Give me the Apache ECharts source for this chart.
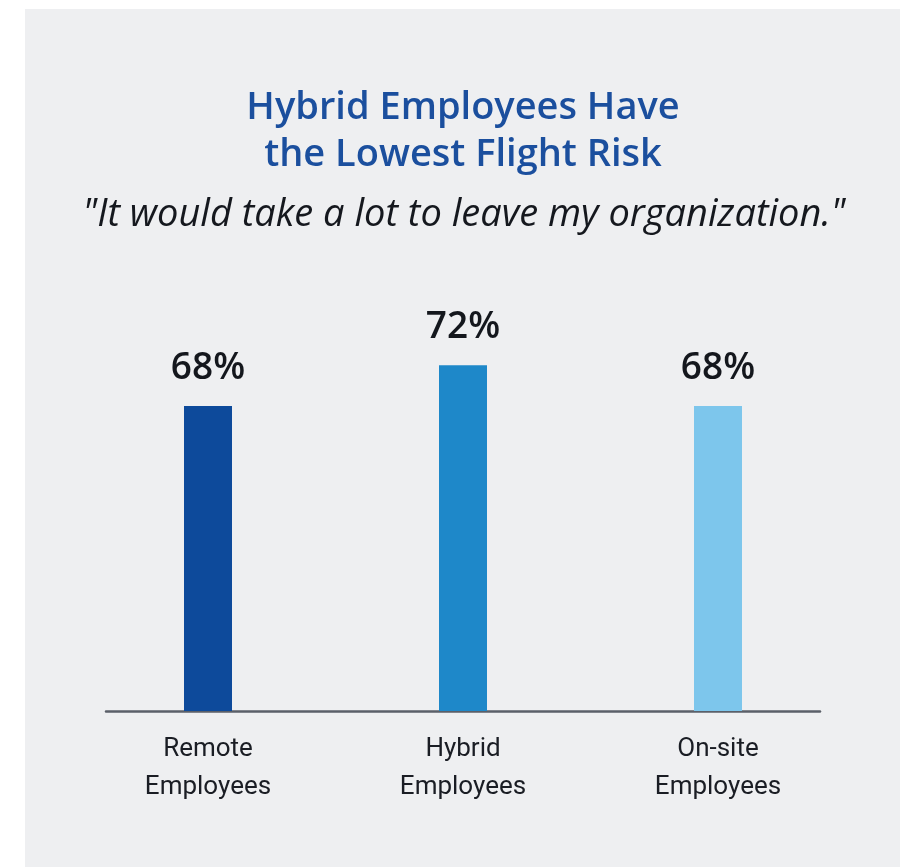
<!DOCTYPE html>
<html>
<head>
<meta charset="utf-8">
<script src="https://cdn.jsdelivr.net/npm/echarts@6/dist/echarts.min.js"></script>
<style>
html,body{margin:0;padding:0;background:#fff;}
#c{width:906px;height:867px;}
</style>
</head>
<body>
<div id="c"></div>
<script>
const categories = ['Remote\nEmployees', 'Hybrid\nEmployees', 'On-site\nEmployees'];
const values = [68, 72, 68];
const barColors = ['#0d4a9b', '#1e88c9', '#7dc6ec'];
const titleText = 'Hybrid Employees Have\nthe Lowest Flight Risk';
const subtitleText = '"It would take a lot to leave my organization."';

const chart = echarts.init(document.getElementById('c'), null, {renderer: 'canvas'});
const option = {
  backgroundColor: '#ffffff',
  animation: false,
  graphic: [{
    type: 'rect', left: 25, top: 9, z: -10,
    shape: {width: 875, height: 858},
    style: {fill: '#eeeff1'}
  }],
  title: [{
    text: titleText,
    left: 458, top: 80, textAlign: 'center',
    textStyle: {fontFamily: 'Open Sans', fontWeight: 600, fontSize: 38, lineHeight: 47, color: '#1b4f9e'}
  }, {
    text: subtitleText,
    left: 459, top: 191, textAlign: 'center',
    textStyle: {fontFamily: 'Open Sans', fontStyle: 'italic', fontWeight: 400, fontSize: 38, color: '#15181e'}
  }],
  grid: {left: 106, right: 86, top: 284, bottom: 156},
  xAxis: {
    type: 'value', min: -0.4, max: 2.4,
    axisLine: {show: true, onZero: false, lineStyle: {color: '#5b6069', width: 2.5}},
    axisTick: {show: false},
    splitLine: {show: false},
    axisLabel: {
      customValues: [0, 1, 2],
      formatter: v => categories[Math.round(v)],
      fontFamily: 'Roboto', fontSize: 26, lineHeight: 38, color: '#1a1d24', margin: 19
    }
  },
  yAxis: {
    type: 'value', min: 38, max: 80, show: false, splitLine: {show: false}
  },
  series: [{
    type: 'bar',
    barWidth: 48,
    data: values.map((v, i) => ({value: [i, v], itemStyle: {color: barColors[i]}})),
    label: {
      show: true, position: 'top', distance: 19,
      formatter: p => p.value[1] + '%',
      fontFamily: 'Open Sans', fontWeight: 600, fontSize: 37, color: '#14171d'
    }
  }]
};
chart.setOption(option);
</script>
</body>
</html>
